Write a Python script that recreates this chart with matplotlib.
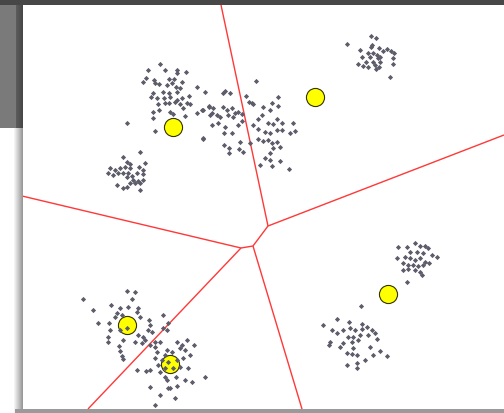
import numpy as np
import matplotlib
matplotlib.use("Agg")
import matplotlib.pyplot as plt
from matplotlib.patches import Rectangle

# sample points (x, y) in screen pixels, one list per cluster
top_left = [(160, 64), (165, 70), (148, 70), (177, 70), (186, 72), (177, 73), (146, 78),
            (143, 82), (154, 80), (155, 83), (169, 79), (174, 79), (159, 84), (167, 85),
            (172, 83), (182, 82), (176, 87), (180, 88), (197, 87), (163, 92), (169, 93),
            (177, 92), (153, 93), (151, 97), (157, 98), (164, 98), (170, 97), (177, 100),
            (182, 98), (189, 96), (175, 102), (169, 103), (165, 103), (158, 104), (180, 104),
            (187, 103), (190, 104), (183, 108), (153, 112), (159, 110), (170, 112), (173, 114),
            (153, 118), (185, 116), (127, 123), (155, 131), (197, 113), (202, 110)]
middle = [(205, 92), (223, 93), (225, 91), (230, 93), (256, 81), (246, 96), (249, 102),
          (252, 103), (253, 104), (263, 107), (272, 103), (278, 97), (278, 106), (203, 110),
          (209, 107), (213, 108), (223, 107), (227, 110), (232, 108), (235, 113), (238, 112),
          (242, 114), (210, 115), (217, 115), (220, 117), (228, 115), (233, 117), (270, 110),
          (262, 115), (258, 119), (277, 119), (282, 123), (268, 123), (273, 124), (212, 125),
          (218, 123), (225, 127), (238, 125), (242, 121), (253, 125), (293, 123), (258, 129),
          (265, 132), (270, 133), (277, 130), (282, 130), (290, 133), (295, 131), (224, 133),
          (232, 133), (203, 139), (258, 139), (263, 141), (268, 140), (272, 143), (277, 142),
          (224, 145), (240, 142), (250, 143), (229, 148), (229, 153), (239, 149), (243, 152),
          (273, 148), (280, 147), (270, 153), (265, 158), (270, 160), (260, 165), (280, 161),
          (272, 166), (289, 169), (209, 106), (212, 113), (203, 138)]
top_right = [(371, 36), (376, 38), (347, 44), (372, 45), (360, 50), (371, 47), (379, 48),
             (383, 51), (387, 49), (391, 51), (394, 53), (368, 53), (373, 53), (377, 55),
             (370, 57), (380, 57), (378, 58), (362, 57), (393, 58), (366, 62), (373, 62),
             (380, 62), (358, 64), (363, 66), (368, 67), (375, 65), (393, 64), (376, 69),
             (379, 67), (390, 77)]
left = [(140, 152), (123, 157), (127, 162), (130, 164), (145, 163), (110, 168), (115, 170),
        (120, 168), (125, 167), (130, 168), (139, 167), (143, 170), (108, 173), (113, 175),
        (118, 173), (123, 173), (128, 173), (132, 176), (137, 173), (143, 174), (127, 177),
        (133, 180), (138, 181), (143, 180), (130, 183), (135, 183), (140, 183), (117, 185),
        (123, 188), (127, 187), (140, 190)]
right = [(407, 247), (415, 243), (420, 246), (425, 246), (428, 248), (398, 247), (410, 252),
         (417, 252), (423, 253), (432, 255), (437, 257), (397, 258), (405, 257), (410, 258),
         (415, 260), (420, 258), (425, 262), (429, 263), (403, 263), (408, 265), (413, 265),
         (418, 266), (423, 265), (403, 270), (408, 269), (415, 270), (420, 272), (422, 275),
         (407, 282)]
bottom_right = [(361, 306), (337, 319), (349, 322), (323, 325), (362, 324), (332, 330),
                (337, 333), (343, 330), (350, 328), (355, 330), (362, 329), (367, 327),
                (372, 330), (375, 333), (348, 337), (353, 337), (360, 335), (368, 335),
                (377, 339), (330, 342), (343, 343), (352, 342), (358, 340), (329, 345),
                (340, 347), (353, 348), (370, 347), (347, 353), (352, 354), (357, 355),
                (373, 355), (380, 351), (387, 356), (365, 360), (347, 365), (357, 363),
                (357, 368)]
bottom_left_a = [(83, 299), (127, 291), (135, 292), (132, 299), (93, 310), (111, 305),
                 (120, 308), (128, 307), (138, 308), (137, 312), (117, 313), (122, 315),
                 (140, 317), (98, 323), (115, 317), (109, 323), (149, 320), (150, 325),
                 (148, 330), (152, 332), (110, 330), (120, 330), (127, 328), (138, 335),
                 (143, 337), (145, 340), (108, 337), (123, 340), (108, 342), (135, 342),
                 (142, 343), (119, 346), (120, 351), (122, 356), (123, 359), (150, 345),
                 (155, 342)]
bottom_left_b = [(163, 315), (168, 323), (163, 328), (167, 330), (177, 342), (160, 342),
                 (187, 340), (182, 345), (194, 345), (155, 347), (167, 350), (172, 352),
                 (180, 348), (185, 350), (157, 352), (165, 355), (190, 355), (155, 358),
                 (162, 360), (168, 362), (177, 360), (183, 358), (158, 365), (165, 368),
                 (173, 368), (180, 367), (188, 368), (137, 370), (146, 371), (150, 370),
                 (160, 372), (165, 377), (176, 377), (205, 377), (167, 380), (185, 380),
                 (192, 382), (150, 387), (170, 388), (177, 386), (168, 388), (175, 398),
                 (160, 395), (155, 405)]

centroids_x = [173, 315, 388, 127, 170]
centroids_y = [127, 97, 294, 325, 364]

# voronoi edges between the centroids
edges = [((221, 5), (268, 226)),
         ((268, 226), (504, 135)),
         ((268, 226), (253, 246)),
         ((253, 246), (302, 409)),
         ((253, 246), (241, 248)),
         ((241, 248), (22, 196)),
         ((241, 248), (88, 409))]

W, H = 504, 413
fig = plt.figure(figsize=(W / 100, H / 100), dpi=100)
fig.patch.set_facecolor("white")

# window frame / shadow behind the canvas
bg = fig.add_axes([0, 0, 1, 1])
bg.set_xlim(0, W)
bg.set_ylim(H, 0)
bg.axis("off")
bg.add_patch(Rectangle((0, 0), 16, 128, color="#7a7a7a", lw=0))
shade = np.linspace(0.36, 0.28, 8)[None, :]
bg.imshow(shade, cmap="gray", vmin=0, vmax=1, extent=(16, 23, 128, 0), aspect="auto")
fade = np.linspace(1.0, 0.6, 10)[None, :]
bg.imshow(fade, cmap="gray", vmin=0, vmax=1, extent=(13, 23, 413, 128), aspect="auto")
bg.add_patch(Rectangle((0, 0), W, 5, color="#474747", lw=0))
bg.add_patch(Rectangle((15, 409), W - 15, 4, color="#9a9a9a", lw=0))
bg.set_xlim(0, W)
bg.set_ylim(H, 0)

ax = fig.add_axes([23 / W, 4 / H, (W - 23) / W, 404 / H])
ax.set_xlim(23, 504)
ax.set_ylim(409, 5)
ax.set_facecolor("white")
ax.axis("off")

for (x0, y0), (x1, y1) in edges:
    ax.plot([x0, x1], [y0, y1], color="#ff3838", lw=1.0, zorder=1, solid_capstyle="butt")

ax.scatter(centroids_x, centroids_y, s=170, c="#ffff00", edgecolors="#333300",
           linewidths=0.8, zorder=2)

for cluster in [top_left, middle, top_right, left, right, bottom_right,
                bottom_left_a, bottom_left_b]:
    pts = np.array(cluster)
    ax.scatter(pts[:, 0], pts[:, 1], s=7, marker="D", c="#5c5c6a", linewidths=0, zorder=3)

fig.savefig("out.png", dpi=100)
